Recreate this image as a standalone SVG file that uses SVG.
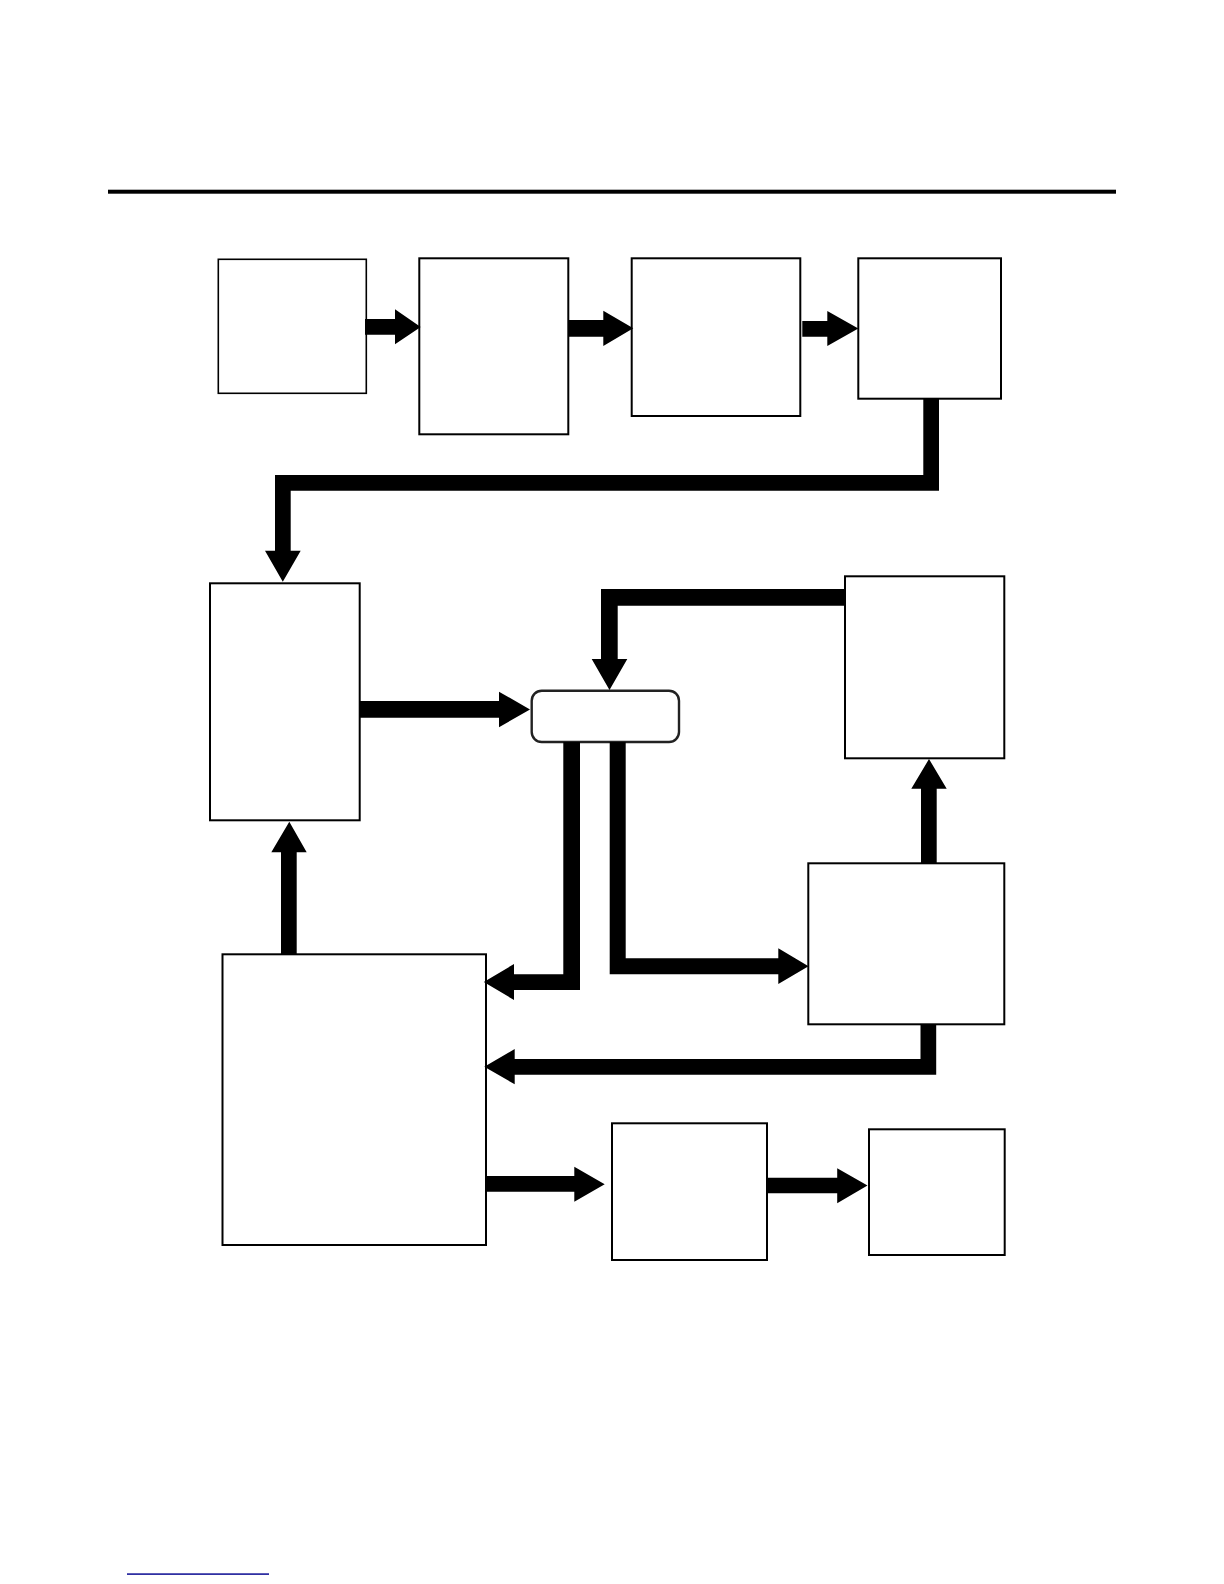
<svg xmlns="http://www.w3.org/2000/svg" width="1224" height="1584" viewBox="0 0 1224 1584">
<style>
.box{fill:#fff;stroke:#000;stroke-width:2}
.rbox{fill:#fff;stroke:#222;stroke-width:2.4}
.conn{fill:#000;stroke:none}
</style>
<rect width="1224" height="1584" fill="#fff"/>
<rect x="108" y="189.7" width="1008" height="4" fill="#000"/>
<g id="nodes">
<g id="n1"><rect class="box" x="218.3" y="259.3" width="148" height="134" style="stroke-width:1.6"/></g>
<g id="n2"><rect class="box" x="419.3" y="258.3" width="149" height="176"/></g>
<g id="n3"><rect class="box" x="631.7" y="258.3" width="168.6" height="157.7"/></g>
<g id="n4"><rect class="box" x="858.3" y="258.3" width="142.7" height="140.4"/></g>
<g id="n5"><rect class="box" x="210" y="583.3" width="149.7" height="237"/></g>
<g id="n6"><rect class="box" x="845" y="576.3" width="159.3" height="182"/></g>
<g id="n7"><rect class="box" x="808.3" y="863.3" width="196" height="161"/></g>
<g id="n8"><rect class="box" x="222.5" y="954.3" width="263.5" height="290.7"/></g>
<g id="n9"><rect class="box" x="612" y="1123.3" width="155" height="136.7"/></g>
<g id="n10"><rect class="box" x="869" y="1129.3" width="135.7" height="125.7"/></g>
<g id="n11"><rect class="rbox" x="531.7" y="690.7" width="147.3" height="51.3" rx="10" ry="10"/></g>
</g>
<g id="connectors" class="conn">
<path d="M365,319H395V309.3L420.7,327L395,344.3V334.7H365Z"/>
<path d="M568.3,320H603.3V310.7L633.3,328.3L603.3,346V336.7H568.3Z"/>
<path d="M802.3,321H827.3V311L858.3,328.5L827.3,346V336.7H802.3Z"/>
<path d="M923.3,398.7H939V490.7H290.7V550.7H300.7L282.8,581.7L265,550.7H275V475H923.3Z"/>
<path d="M359.7,701H499V691.7L530,709.4L499,727.3V717.7H359.7Z"/>
<path d="M844,589V605.7H617.7V659H627.3L609.5,690L591.7,659H601V589Z"/>
<path d="M563.3,742H580V990H514V1000L483.8,982L514,964V974.3H563.3Z"/>
<path d="M609.7,742H625.7V958.3H778.3V948.3L808.5,966.2L778.3,984V974.3H609.7Z"/>
<path d="M921,863.3V788.7H911.3L929,759L946.7,788.7H936.7V863.3Z"/>
<path d="M920.5,1024.3H936.2V1074.7H514.7V1084.3L484.3,1066.7L514.7,1049V1059H920.5Z"/>
<path d="M281,954.3V852.3H271.3L289.3,821.7L306.7,852.3H296.7V954.3Z"/>
<path d="M486,1176H574.3V1166.7L604.7,1184.2L574.3,1201.7V1191.7H486Z"/>
<path d="M767,1177.7H837.2V1168.3L867.5,1185.6L837.2,1203.3V1193.3H767Z"/>
</g>
<rect x="127" y="1573.3" width="142" height="1.6" fill="#1a1a99"/>
</svg>
